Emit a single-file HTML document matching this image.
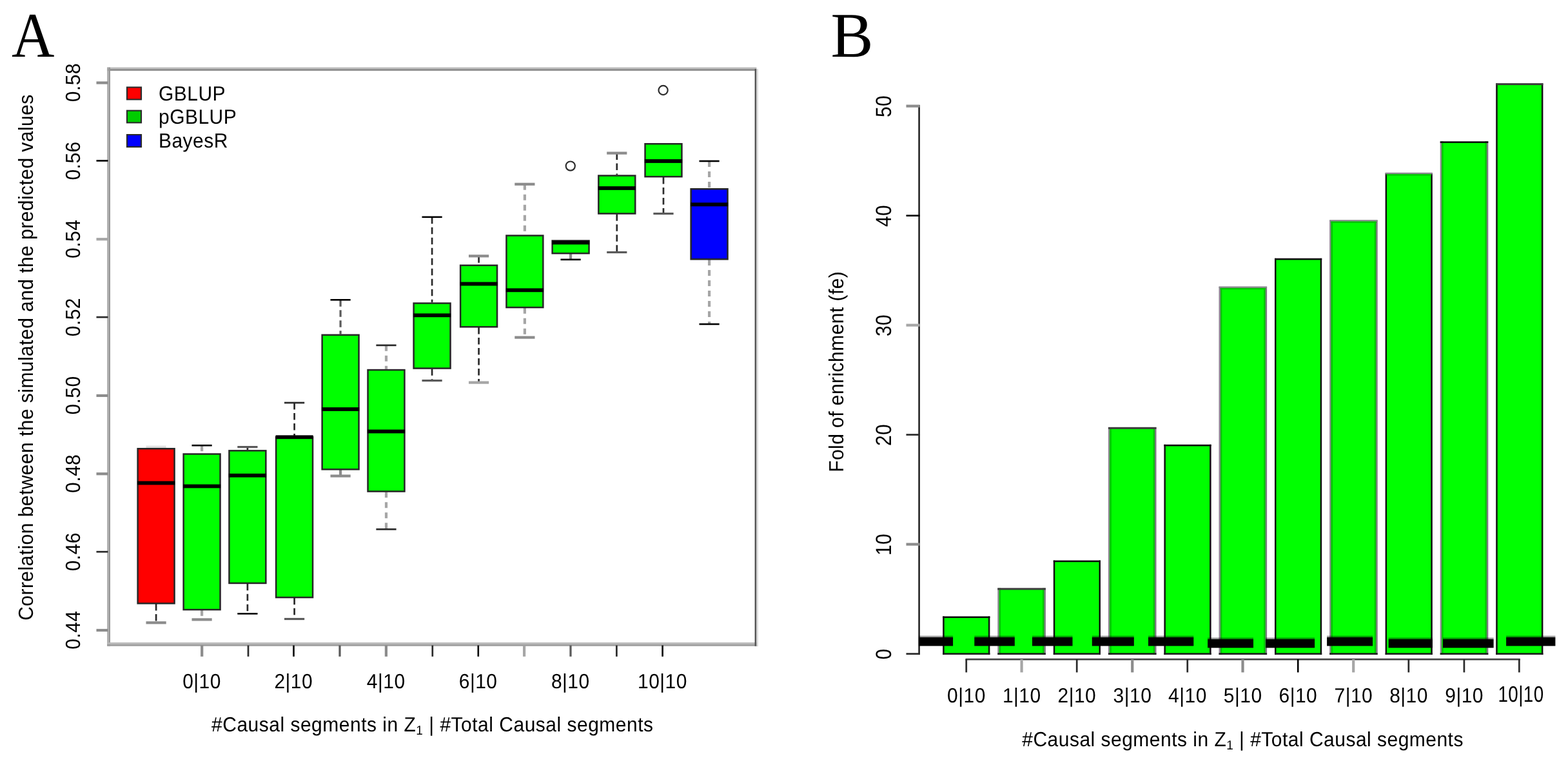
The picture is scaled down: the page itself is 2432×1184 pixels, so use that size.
<!DOCTYPE html>
<html lang="en">
<head>
<meta charset="utf-8">
<title>Prediction accuracy (A) and fold of enrichment (B)</title>
<style>
html, body { margin: 0; padding: 0; background: #ffffff; }
body { width: 2432px; height: 1184px; overflow: hidden; }
svg { display: block; }
text { text-rendering: geometricPrecision; }
text.s { font-family: "Liberation Sans", sans-serif; }
text.r { font-family: "Liberation Serif", serif; }
</style>
</head>
<body>
<svg width="2432" height="1184" viewBox="0 0 2432 1184">
<rect x="0" y="0" width="2432" height="1184" fill="#ffffff"/>
<rect x="166.20" y="104.40" width="1007.20" height="2.50" fill="#bdbdbd"/>
<rect x="166.20" y="106.90" width="1007.20" height="3.00" fill="#909090"/>
<rect x="166.20" y="104.60" width="2.40" height="897.90" fill="#a9a9a9"/>
<rect x="168.60" y="104.60" width="2.40" height="897.90" fill="#979797"/>
<rect x="166.20" y="996.90" width="1009.40" height="2.90" fill="#b8b8b8"/>
<rect x="166.20" y="999.80" width="1009.40" height="2.80" fill="#9c9c9c"/>
<rect x="1170.60" y="106.90" width="2.80" height="895.70" fill="#555"/>
<rect x="1173.40" y="106.90" width="2.60" height="895.70" fill="#ddd"/>
<rect x="149.50" y="975.90" width="18.00" height="4.20" fill="#8c8c8c"/>
<rect x="149.50" y="854.89" width="18.00" height="2.70" fill="#2b2b2b"/>
<rect x="149.50" y="733.18" width="18.00" height="4.20" fill="#8c8c8c"/>
<rect x="149.50" y="611.82" width="18.00" height="4.20" fill="#8c8c8c"/>
<rect x="149.50" y="490.81" width="18.00" height="2.70" fill="#2b2b2b"/>
<rect x="149.50" y="369.10" width="18.00" height="4.20" fill="#a6a6a6"/>
<rect x="149.50" y="248.14" width="18.00" height="2.60" fill="#000"/>
<rect x="149.50" y="126.38" width="18.00" height="4.20" fill="#8c8c8c"/>
<rect x="311.10" y="1001.50" width="4.20" height="17.30" fill="#8c8c8c"/>
<rect x="383.65" y="1001.50" width="2.70" height="17.30" fill="#2b2b2b"/>
<rect x="454.20" y="1001.50" width="2.60" height="17.30" fill="#000"/>
<rect x="525.40" y="1001.50" width="3.20" height="17.30" fill="#5a5a5a"/>
<rect x="596.80" y="1001.50" width="4.20" height="17.30" fill="#8c8c8c"/>
<rect x="669.45" y="1001.50" width="2.70" height="17.30" fill="#2b2b2b"/>
<rect x="740.50" y="1001.50" width="2.60" height="17.30" fill="#000"/>
<rect x="811.00" y="1001.50" width="4.20" height="17.30" fill="#a6a6a6"/>
<rect x="883.40" y="1001.50" width="3.20" height="17.30" fill="#5a5a5a"/>
<rect x="955.05" y="1001.50" width="2.70" height="17.30" fill="#2b2b2b"/>
<rect x="1026.30" y="1001.50" width="2.60" height="17.30" fill="#000"/>
<rect x="195.90" y="134.40" width="24.20" height="21.00" fill="#2a2a2a"/>
<rect x="198.00" y="136.50" width="20.00" height="16.80" fill="#ff0000"/>
<rect x="195.90" y="170.60" width="24.20" height="20.80" fill="#2a2a2a"/>
<rect x="198.00" y="172.70" width="20.00" height="16.60" fill="#00cd00"/>
<rect x="195.90" y="208.00" width="24.20" height="21.00" fill="#2a2a2a"/>
<rect x="198.00" y="210.10" width="20.00" height="16.80" fill="#0000ff"/>
<rect x="226.50" y="691.60" width="31.20" height="4.00" fill="#e0e0e0"/>
<line x1="242.10" y1="937.10" x2="242.10" y2="966.30" stroke="#2b2b2b" stroke-width="2.7" stroke-dasharray="10.5 5.5" stroke-dashoffset="0"/>
<rect x="226.50" y="964.20" width="31.20" height="4.20" fill="#8c8c8c"/>
<rect x="212.40" y="695.00" width="59.40" height="242.60" fill="#262626"/>
<rect x="214.90" y="697.50" width="54.40" height="237.60" fill="#ff0000"/>
<rect x="213.00" y="746.60" width="58.20" height="5.80" fill="#000"/>
<line x1="313.10" y1="691.20" x2="313.10" y2="703.30" stroke="#a6a6a6" stroke-width="4.2" stroke-dasharray="9.0 7.0" stroke-dashoffset="0"/>
<rect x="297.50" y="689.90" width="31.20" height="2.60" fill="#000"/>
<line x1="313.10" y1="946.80" x2="313.10" y2="961.40" stroke="#a6a6a6" stroke-width="4.2" stroke-dasharray="9.0 7.0" stroke-dashoffset="0"/>
<rect x="297.50" y="959.30" width="31.20" height="4.20" fill="#8c8c8c"/>
<rect x="283.40" y="703.30" width="59.40" height="244.00" fill="#262626"/>
<rect x="285.90" y="705.80" width="54.40" height="239.00" fill="#00ff00"/>
<rect x="284.00" y="751.60" width="58.20" height="5.80" fill="#000"/>
<line x1="383.90" y1="693.60" x2="383.90" y2="698.10" stroke="#2b2b2b" stroke-width="2.7" stroke-dasharray="10.5 5.5" stroke-dashoffset="0"/>
<rect x="368.30" y="692.00" width="31.20" height="3.20" fill="#5a5a5a"/>
<line x1="383.90" y1="905.70" x2="383.90" y2="952.30" stroke="#2b2b2b" stroke-width="2.7" stroke-dasharray="10.5 5.5" stroke-dashoffset="0"/>
<rect x="368.30" y="951.00" width="31.20" height="2.60" fill="#000"/>
<rect x="354.20" y="698.10" width="59.40" height="208.10" fill="#262626"/>
<rect x="356.70" y="700.60" width="54.40" height="203.10" fill="#00ff00"/>
<rect x="354.80" y="734.90" width="58.20" height="5.80" fill="#000"/>
<line x1="456.60" y1="625.00" x2="456.60" y2="677.00" stroke="#2b2b2b" stroke-width="2.7" stroke-dasharray="10.5 5.5" stroke-dashoffset="0"/>
<rect x="441.00" y="623.65" width="31.20" height="2.70" fill="#2b2b2b"/>
<line x1="456.60" y1="927.80" x2="456.60" y2="960.50" stroke="#2b2b2b" stroke-width="2.7" stroke-dasharray="10.5 5.5" stroke-dashoffset="0"/>
<rect x="441.00" y="958.90" width="31.20" height="3.20" fill="#5a5a5a"/>
<rect x="426.90" y="677.00" width="59.40" height="251.30" fill="#262626"/>
<rect x="429.40" y="679.50" width="54.40" height="246.30" fill="#00ff00"/>
<rect x="427.50" y="675.40" width="58.20" height="5.80" fill="#000"/>
<line x1="528.10" y1="465.30" x2="528.10" y2="518.50" stroke="#5a5a5a" stroke-width="3.2" stroke-dasharray="10.5 5.5" stroke-dashoffset="0"/>
<rect x="512.50" y="464.00" width="31.20" height="2.60" fill="#000"/>
<line x1="528.10" y1="729.10" x2="528.10" y2="738.60" stroke="#8c8c8c" stroke-width="4.2" stroke-dasharray="9.0 7.0" stroke-dashoffset="0"/>
<rect x="512.50" y="736.50" width="31.20" height="4.20" fill="#8c8c8c"/>
<rect x="498.40" y="518.50" width="59.40" height="211.10" fill="#262626"/>
<rect x="500.90" y="521.00" width="54.40" height="206.10" fill="#00ff00"/>
<rect x="499.00" y="632.10" width="58.20" height="5.80" fill="#000"/>
<line x1="599.00" y1="535.80" x2="599.00" y2="572.80" stroke="#a6a6a6" stroke-width="4.2" stroke-dasharray="9.0 7.0" stroke-dashoffset="0"/>
<rect x="583.40" y="534.45" width="31.20" height="2.70" fill="#2b2b2b"/>
<line x1="599.00" y1="763.30" x2="599.00" y2="821.30" stroke="#a6a6a6" stroke-width="4.2" stroke-dasharray="9.0 7.0" stroke-dashoffset="0"/>
<rect x="583.40" y="819.95" width="31.20" height="2.70" fill="#2b2b2b"/>
<rect x="569.30" y="572.80" width="59.40" height="191.00" fill="#262626"/>
<rect x="571.80" y="575.30" width="54.40" height="186.00" fill="#00ff00"/>
<rect x="569.90" y="666.60" width="58.20" height="5.80" fill="#000"/>
<line x1="670.10" y1="336.80" x2="670.10" y2="469.30" stroke="#2b2b2b" stroke-width="2.7" stroke-dasharray="10.5 5.5" stroke-dashoffset="0"/>
<rect x="654.50" y="335.50" width="31.20" height="2.60" fill="#000"/>
<line x1="670.10" y1="572.30" x2="670.10" y2="590.60" stroke="#2b2b2b" stroke-width="2.7" stroke-dasharray="10.5 5.5" stroke-dashoffset="0"/>
<rect x="654.50" y="589.00" width="31.20" height="3.20" fill="#5a5a5a"/>
<rect x="640.40" y="469.30" width="59.40" height="103.50" fill="#262626"/>
<rect x="642.90" y="471.80" width="54.40" height="98.50" fill="#00ff00"/>
<rect x="641.00" y="486.40" width="58.20" height="5.80" fill="#000"/>
<line x1="742.60" y1="397.30" x2="742.60" y2="410.50" stroke="#2b2b2b" stroke-width="2.7" stroke-dasharray="10.5 5.5" stroke-dashoffset="0"/>
<rect x="727.00" y="395.20" width="31.20" height="4.20" fill="#8c8c8c"/>
<line x1="742.60" y1="508.00" x2="742.60" y2="593.60" stroke="#2b2b2b" stroke-width="2.7" stroke-dasharray="10.5 5.5" stroke-dashoffset="0"/>
<rect x="727.00" y="591.50" width="31.20" height="4.20" fill="#a6a6a6"/>
<rect x="712.90" y="410.50" width="59.40" height="98.00" fill="#262626"/>
<rect x="715.40" y="413.00" width="54.40" height="93.00" fill="#00ff00"/>
<rect x="713.50" y="437.60" width="58.20" height="5.80" fill="#000"/>
<line x1="813.90" y1="285.80" x2="813.90" y2="364.30" stroke="#a6a6a6" stroke-width="4.2" stroke-dasharray="9.0 7.0" stroke-dashoffset="0"/>
<rect x="798.30" y="283.70" width="31.20" height="4.20" fill="#8c8c8c"/>
<line x1="813.90" y1="477.80" x2="813.90" y2="523.60" stroke="#a6a6a6" stroke-width="4.2" stroke-dasharray="9.0 7.0" stroke-dashoffset="0"/>
<rect x="798.30" y="521.50" width="31.20" height="4.20" fill="#8c8c8c"/>
<rect x="784.20" y="364.30" width="59.40" height="114.00" fill="#262626"/>
<rect x="786.70" y="366.80" width="54.40" height="109.00" fill="#00ff00"/>
<rect x="784.80" y="447.40" width="58.20" height="5.80" fill="#000"/>
<line x1="885.10" y1="393.90" x2="885.10" y2="402.80" stroke="#8c8c8c" stroke-width="4.2" stroke-dasharray="9.0 7.0" stroke-dashoffset="0"/>
<rect x="869.50" y="401.50" width="31.20" height="2.60" fill="#000"/>
<rect x="855.40" y="372.30" width="59.40" height="22.10" fill="#262626"/>
<rect x="857.90" y="374.80" width="54.40" height="17.10" fill="#00ff00"/>
<rect x="856.00" y="373.60" width="58.20" height="5.80" fill="#000"/>
<line x1="956.80" y1="237.60" x2="956.80" y2="271.30" stroke="#2b2b2b" stroke-width="2.7" stroke-dasharray="10.5 5.5" stroke-dashoffset="0"/>
<rect x="941.20" y="235.50" width="31.20" height="4.20" fill="#8c8c8c"/>
<line x1="956.80" y1="332.20" x2="956.80" y2="391.50" stroke="#2b2b2b" stroke-width="2.7" stroke-dasharray="10.5 5.5" stroke-dashoffset="0"/>
<rect x="941.20" y="389.90" width="31.20" height="3.20" fill="#5a5a5a"/>
<rect x="927.10" y="271.30" width="59.40" height="61.40" fill="#262626"/>
<rect x="929.60" y="273.80" width="54.40" height="56.40" fill="#00ff00"/>
<rect x="927.70" y="289.10" width="58.20" height="5.80" fill="#000"/>
<line x1="1029.00" y1="274.90" x2="1029.00" y2="331.50" stroke="#2b2b2b" stroke-width="2.7" stroke-dasharray="10.5 5.5" stroke-dashoffset="0"/>
<rect x="1013.40" y="329.90" width="31.20" height="3.20" fill="#5a5a5a"/>
<rect x="999.30" y="222.00" width="59.40" height="53.40" fill="#262626"/>
<rect x="1001.80" y="224.50" width="54.40" height="48.40" fill="#00ff00"/>
<rect x="999.90" y="247.10" width="58.20" height="5.80" fill="#000"/>
<line x1="1100.10" y1="250.00" x2="1100.10" y2="292.00" stroke="#a6a6a6" stroke-width="4.2" stroke-dasharray="9.0 7.0" stroke-dashoffset="0"/>
<rect x="1084.50" y="248.70" width="31.20" height="2.60" fill="#000"/>
<line x1="1100.10" y1="403.00" x2="1100.10" y2="503.00" stroke="#a6a6a6" stroke-width="4.2" stroke-dasharray="9.0 7.0" stroke-dashoffset="0"/>
<rect x="1084.50" y="501.70" width="31.20" height="2.60" fill="#000"/>
<rect x="1070.40" y="292.00" width="59.40" height="111.50" fill="#262626"/>
<rect x="1072.90" y="294.50" width="54.40" height="106.50" fill="#0000ff"/>
<rect x="1071.00" y="314.40" width="58.20" height="5.80" fill="#000"/>
<circle cx="884.8" cy="257.6" r="7.1" fill="none" stroke="#2e2e2e" stroke-width="2.2"/>
<circle cx="1028.6" cy="140.0" r="7.1" fill="none" stroke="#2e2e2e" stroke-width="2.2"/>
<rect x="1463.20" y="957.40" width="71.20" height="57.50" fill="#00ff00"/>
<rect x="1462.20" y="956.40" width="2.50" height="59.50" fill="#101010"/>
<rect x="1532.90" y="956.40" width="2.50" height="59.50" fill="#101010"/>
<rect x="1462.20" y="956.40" width="73.20" height="2.60" fill="#0c0c0c"/>
<rect x="1462.20" y="1013.30" width="73.20" height="2.60" fill="#1c1c1c"/>
<rect x="1549.00" y="913.60" width="71.20" height="101.30" fill="#00ff00"/>
<rect x="1547.30" y="912.60" width="2.50" height="103.30" fill="#8c8890"/>
<rect x="1549.80" y="912.60" width="2.40" height="103.30" fill="#00c400"/>
<rect x="1617.00" y="912.60" width="2.40" height="103.30" fill="#00c400"/>
<rect x="1619.40" y="912.60" width="2.50" height="103.30" fill="#7c787f"/>
<rect x="1547.30" y="912.40" width="74.60" height="3.00" fill="#3c3c3c"/>
<rect x="1547.30" y="1013.30" width="74.60" height="2.60" fill="#1c1c1c"/>
<rect x="1634.80" y="870.60" width="71.20" height="144.30" fill="#00ff00"/>
<rect x="1633.80" y="869.60" width="2.50" height="146.30" fill="#101010"/>
<rect x="1704.50" y="869.60" width="2.50" height="146.30" fill="#101010"/>
<rect x="1633.80" y="869.60" width="73.20" height="2.60" fill="#0c0c0c"/>
<rect x="1633.80" y="1013.30" width="73.20" height="2.60" fill="#1c1c1c"/>
<rect x="1720.60" y="664.00" width="71.20" height="350.90" fill="#00ff00"/>
<rect x="1718.90" y="663.00" width="2.50" height="352.90" fill="#8c8890"/>
<rect x="1721.40" y="663.00" width="2.40" height="352.90" fill="#00c400"/>
<rect x="1788.60" y="663.00" width="2.40" height="352.90" fill="#00c400"/>
<rect x="1791.00" y="663.00" width="2.50" height="352.90" fill="#7c787f"/>
<rect x="1718.90" y="662.80" width="74.60" height="3.00" fill="#3c3c3c"/>
<rect x="1718.90" y="1013.30" width="74.60" height="2.60" fill="#1c1c1c"/>
<rect x="1806.40" y="690.80" width="71.20" height="324.10" fill="#00ff00"/>
<rect x="1805.40" y="689.80" width="2.50" height="326.10" fill="#101010"/>
<rect x="1876.10" y="689.80" width="2.50" height="326.10" fill="#101010"/>
<rect x="1805.40" y="689.80" width="73.20" height="2.60" fill="#0c0c0c"/>
<rect x="1805.40" y="1013.30" width="73.20" height="2.60" fill="#1c1c1c"/>
<rect x="1892.20" y="446.20" width="71.20" height="568.70" fill="#00ff00"/>
<rect x="1890.50" y="445.20" width="2.50" height="570.70" fill="#8c8890"/>
<rect x="1893.00" y="445.20" width="2.40" height="570.70" fill="#00c400"/>
<rect x="1960.20" y="445.20" width="2.40" height="570.70" fill="#00c400"/>
<rect x="1962.60" y="445.20" width="2.50" height="570.70" fill="#7c787f"/>
<rect x="1890.50" y="444.40" width="74.60" height="2.50" fill="#8c8890"/>
<rect x="1892.50" y="446.90" width="70.60" height="2.30" fill="#00c400"/>
<rect x="1890.50" y="1013.30" width="74.60" height="2.60" fill="#1c1c1c"/>
<rect x="1978.00" y="401.80" width="71.20" height="613.10" fill="#00ff00"/>
<rect x="1977.00" y="400.80" width="2.50" height="615.10" fill="#101010"/>
<rect x="2047.70" y="400.80" width="2.50" height="615.10" fill="#101010"/>
<rect x="1977.00" y="400.80" width="73.20" height="2.60" fill="#0c0c0c"/>
<rect x="1977.00" y="1013.30" width="73.20" height="2.60" fill="#1c1c1c"/>
<rect x="2063.80" y="343.00" width="71.20" height="671.90" fill="#00ff00"/>
<rect x="2062.10" y="342.00" width="2.50" height="673.90" fill="#8c8890"/>
<rect x="2064.60" y="342.00" width="2.40" height="673.90" fill="#00c400"/>
<rect x="2131.80" y="342.00" width="2.40" height="673.90" fill="#00c400"/>
<rect x="2134.20" y="342.00" width="2.50" height="673.90" fill="#7c787f"/>
<rect x="2062.10" y="341.20" width="74.60" height="2.50" fill="#8c8890"/>
<rect x="2064.10" y="343.70" width="70.60" height="2.30" fill="#00c400"/>
<rect x="2062.10" y="1013.30" width="74.60" height="2.60" fill="#1c1c1c"/>
<rect x="2149.60" y="269.60" width="71.20" height="745.30" fill="#00ff00"/>
<rect x="2148.60" y="268.60" width="2.50" height="747.30" fill="#101010"/>
<rect x="2219.30" y="268.60" width="2.50" height="747.30" fill="#101010"/>
<rect x="2148.60" y="267.80" width="73.20" height="2.50" fill="#8c8890"/>
<rect x="2150.60" y="270.30" width="69.20" height="2.30" fill="#00c400"/>
<rect x="2148.60" y="1013.30" width="73.20" height="2.60" fill="#1c1c1c"/>
<rect x="2235.40" y="220.30" width="71.20" height="794.60" fill="#00ff00"/>
<rect x="2233.70" y="219.30" width="2.50" height="796.60" fill="#8c8890"/>
<rect x="2236.20" y="219.30" width="2.40" height="796.60" fill="#00c400"/>
<rect x="2303.40" y="219.30" width="2.40" height="796.60" fill="#00c400"/>
<rect x="2305.80" y="219.30" width="2.50" height="796.60" fill="#7c787f"/>
<rect x="2233.70" y="219.30" width="74.60" height="2.60" fill="#0c0c0c"/>
<rect x="2233.70" y="1013.30" width="74.60" height="2.60" fill="#1c1c1c"/>
<rect x="2321.20" y="130.30" width="71.20" height="884.60" fill="#00ff00"/>
<rect x="2320.20" y="129.30" width="2.50" height="886.60" fill="#101010"/>
<rect x="2390.90" y="129.30" width="2.50" height="886.60" fill="#101010"/>
<rect x="2320.20" y="129.10" width="73.20" height="3.00" fill="#3c3c3c"/>
<rect x="2320.20" y="1013.30" width="73.20" height="2.60" fill="#1c1c1c"/>
<rect x="1424.25" y="163.00" width="2.70" height="853.00" fill="#2b2b2b"/>
<rect x="1405.50" y="1013.25" width="21.10" height="2.70" fill="#2b2b2b"/>
<rect x="1405.50" y="842.50" width="21.10" height="4.20" fill="#8c8c8c"/>
<rect x="1405.50" y="673.25" width="21.10" height="2.70" fill="#2b2b2b"/>
<rect x="1405.50" y="502.50" width="21.10" height="4.20" fill="#a6a6a6"/>
<rect x="1405.50" y="333.30" width="21.10" height="2.60" fill="#000"/>
<rect x="1405.50" y="162.50" width="21.10" height="4.20" fill="#8c8c8c"/>
<rect x="1497.50" y="1021.80" width="860.30" height="2.70" fill="#444"/>
<rect x="1497.40" y="1023.00" width="2.70" height="20.40" fill="#2b2b2b"/>
<rect x="1582.50" y="1023.00" width="4.20" height="20.40" fill="#a6a6a6"/>
<rect x="1668.85" y="1023.00" width="2.70" height="20.40" fill="#2b2b2b"/>
<rect x="1754.15" y="1023.00" width="4.20" height="20.40" fill="#8c8c8c"/>
<rect x="1840.40" y="1023.00" width="2.70" height="20.40" fill="#2b2b2b"/>
<rect x="1925.40" y="1023.00" width="4.20" height="20.40" fill="#8c8c8c"/>
<rect x="2011.90" y="1023.00" width="2.60" height="20.40" fill="#000"/>
<rect x="2097.10" y="1023.00" width="4.20" height="20.40" fill="#a6a6a6"/>
<rect x="2183.45" y="1023.00" width="2.70" height="20.40" fill="#2b2b2b"/>
<rect x="2269.55" y="1023.00" width="2.70" height="20.40" fill="#2b2b2b"/>
<rect x="2354.95" y="1023.00" width="2.70" height="20.40" fill="#2b2b2b"/>
<rect x="1425.00" y="986.60" width="53.10" height="2.6" fill="#000" fill-opacity="0.4"/>
<rect x="1425.00" y="989.00" width="53.10" height="13.40" fill="#000"/>
<rect x="1511.30" y="986.60" width="62.50" height="2.6" fill="#000" fill-opacity="0.4"/>
<rect x="1511.30" y="989.00" width="62.50" height="13.40" fill="#000"/>
<rect x="1601.00" y="986.60" width="62.50" height="2.6" fill="#000" fill-opacity="0.4"/>
<rect x="1601.00" y="989.00" width="62.50" height="13.40" fill="#000"/>
<rect x="1693.80" y="986.60" width="65.00" height="2.6" fill="#000" fill-opacity="0.4"/>
<rect x="1693.80" y="989.00" width="65.00" height="13.40" fill="#000"/>
<rect x="1781.00" y="986.60" width="70.30" height="2.6" fill="#000" fill-opacity="0.4"/>
<rect x="1781.00" y="989.00" width="70.30" height="13.40" fill="#000"/>
<rect x="1873.10" y="989.50" width="70.90" height="2.6" fill="#000" fill-opacity="0.4"/>
<rect x="1873.10" y="991.90" width="70.90" height="13.40" fill="#000"/>
<rect x="1963.10" y="989.50" width="76.00" height="2.6" fill="#000" fill-opacity="0.4"/>
<rect x="1963.10" y="991.90" width="76.00" height="13.40" fill="#000"/>
<rect x="2058.10" y="986.60" width="71.00" height="2.6" fill="#000" fill-opacity="0.4"/>
<rect x="2058.10" y="989.00" width="71.00" height="13.40" fill="#000"/>
<rect x="2153.70" y="989.50" width="68.10" height="2.6" fill="#000" fill-opacity="0.4"/>
<rect x="2153.70" y="991.90" width="68.10" height="13.40" fill="#000"/>
<rect x="2238.00" y="989.50" width="78.60" height="2.6" fill="#000" fill-opacity="0.4"/>
<rect x="2238.00" y="991.90" width="78.60" height="13.40" fill="#000"/>
<rect x="2336.10" y="986.60" width="76.30" height="2.6" fill="#000" fill-opacity="0.4"/>
<rect x="2336.10" y="989.00" width="76.30" height="13.40" fill="#000"/>
<g>
<text class="r" transform="translate(18.10 88.00) scale(0.930 1.000)" font-size="99" text-anchor="start" fill="#000">A</text>
<text class="r" transform="translate(1288.40 87.80)" font-size="99" text-anchor="start" fill="#000">B</text>
<text class="s" transform="translate(124.40 977.60) rotate(-90) scale(1.000 1.060)" font-size="30" text-anchor="middle" fill="#000" letter-spacing="0.45">0.44</text>
<text class="s" transform="translate(124.40 856.24) rotate(-90) scale(1.000 1.060)" font-size="30" text-anchor="middle" fill="#000" letter-spacing="0.45">0.46</text>
<text class="s" transform="translate(124.40 734.88) rotate(-90) scale(1.000 1.060)" font-size="30" text-anchor="middle" fill="#000" letter-spacing="0.45">0.48</text>
<text class="s" transform="translate(124.40 613.52) rotate(-90) scale(1.000 1.060)" font-size="30" text-anchor="middle" fill="#000" letter-spacing="0.45">0.50</text>
<text class="s" transform="translate(124.40 492.16) rotate(-90) scale(1.000 1.060)" font-size="30" text-anchor="middle" fill="#000" letter-spacing="0.45">0.52</text>
<text class="s" transform="translate(124.40 370.80) rotate(-90) scale(1.000 1.060)" font-size="30" text-anchor="middle" fill="#000" letter-spacing="0.45">0.54</text>
<text class="s" transform="translate(124.40 249.44) rotate(-90) scale(1.000 1.060)" font-size="30" text-anchor="middle" fill="#000" letter-spacing="0.45">0.56</text>
<text class="s" transform="translate(124.40 128.08) rotate(-90) scale(1.000 1.060)" font-size="30" text-anchor="middle" fill="#000" letter-spacing="0.45">0.58</text>
<text class="s" transform="translate(313.00 1067.60) scale(1.000 1.060)" font-size="30" text-anchor="middle" fill="#000" letter-spacing="0.45">0|10</text>
<text class="s" transform="translate(455.30 1067.60) scale(1.000 1.060)" font-size="30" text-anchor="middle" fill="#000" letter-spacing="0.45">2|10</text>
<text class="s" transform="translate(598.70 1067.60) scale(1.000 1.060)" font-size="30" text-anchor="middle" fill="#000" letter-spacing="0.45">4|10</text>
<text class="s" transform="translate(741.60 1067.60) scale(1.000 1.060)" font-size="30" text-anchor="middle" fill="#000" letter-spacing="0.45">6|10</text>
<text class="s" transform="translate(884.80 1067.60) scale(1.000 1.060)" font-size="30" text-anchor="middle" fill="#000" letter-spacing="0.45">8|10</text>
<text class="s" transform="translate(1027.40 1067.60) scale(1.000 1.060)" font-size="30" text-anchor="middle" fill="#000" letter-spacing="0.45">10|10</text>
<text class="s" transform="translate(670.80 1134.60) scale(1.000 1.060)" font-size="30" text-anchor="middle" fill="#000" letter-spacing="0.5">#Causal segments in Z<tspan font-size="19" dy="5.2">1</tspan><tspan dy="-5.2"> | #Total Causal segments</tspan></text>
<text class="s" transform="translate(51.40 554.50) rotate(-90) scale(1.000 1.060)" font-size="30" text-anchor="middle" fill="#000" letter-spacing="0.45">Correlation between the simulated and the predicted values</text>
<text class="s" transform="translate(246.00 155.50) scale(1.000 1.060)" font-size="30" text-anchor="start" fill="#000" letter-spacing="0.45">GBLUP</text>
<text class="s" transform="translate(246.00 192.30) scale(1.000 1.060)" font-size="30" text-anchor="start" fill="#000" letter-spacing="0.45">pGBLUP</text>
<text class="s" transform="translate(246.00 229.30) scale(1.000 1.060)" font-size="30" text-anchor="start" fill="#000" letter-spacing="0.45">BayesR</text>
<text class="s" transform="translate(1382.40 1014.90) rotate(-90) scale(1.000 1.130)" font-size="30" text-anchor="middle" fill="#000" letter-spacing="0.45">0</text>
<text class="s" transform="translate(1382.40 844.90) rotate(-90) scale(1.000 1.130)" font-size="30" text-anchor="middle" fill="#000" letter-spacing="0.45">10</text>
<text class="s" transform="translate(1382.40 674.90) rotate(-90) scale(1.000 1.130)" font-size="30" text-anchor="middle" fill="#000" letter-spacing="0.45">20</text>
<text class="s" transform="translate(1382.40 504.90) rotate(-90) scale(1.000 1.130)" font-size="30" text-anchor="middle" fill="#000" letter-spacing="0.45">30</text>
<text class="s" transform="translate(1382.40 334.90) rotate(-90) scale(1.000 1.130)" font-size="30" text-anchor="middle" fill="#000" letter-spacing="0.45">40</text>
<text class="s" transform="translate(1382.40 164.90) rotate(-90) scale(1.000 1.130)" font-size="30" text-anchor="middle" fill="#000" letter-spacing="0.45">50</text>
<text class="s" transform="translate(1498.95 1090.20) scale(1.000 1.060)" font-size="30" text-anchor="middle" fill="#000" letter-spacing="0.45">0|10</text>
<text class="s" transform="translate(1584.80 1090.20) scale(1.000 1.060)" font-size="30" text-anchor="middle" fill="#000" letter-spacing="0.45">1|10</text>
<text class="s" transform="translate(1670.40 1090.20) scale(1.000 1.060)" font-size="30" text-anchor="middle" fill="#000" letter-spacing="0.45">2|10</text>
<text class="s" transform="translate(1756.45 1090.20) scale(1.000 1.060)" font-size="30" text-anchor="middle" fill="#000" letter-spacing="0.45">3|10</text>
<text class="s" transform="translate(1841.95 1090.20) scale(1.000 1.060)" font-size="30" text-anchor="middle" fill="#000" letter-spacing="0.45">4|10</text>
<text class="s" transform="translate(1927.70 1090.20) scale(1.000 1.060)" font-size="30" text-anchor="middle" fill="#000" letter-spacing="0.45">5|10</text>
<text class="s" transform="translate(2013.40 1090.20) scale(1.000 1.060)" font-size="30" text-anchor="middle" fill="#000" letter-spacing="0.45">6|10</text>
<text class="s" transform="translate(2099.40 1090.20) scale(1.000 1.060)" font-size="30" text-anchor="middle" fill="#000" letter-spacing="0.45">7|10</text>
<text class="s" transform="translate(2185.00 1090.20) scale(1.000 1.060)" font-size="30" text-anchor="middle" fill="#000" letter-spacing="0.45">8|10</text>
<text class="s" transform="translate(2271.10 1090.20) scale(1.000 1.060)" font-size="30" text-anchor="middle" fill="#000" letter-spacing="0.45">9|10</text>
<text class="s" transform="translate(2359.00 1089.20) scale(0.925 1.160)" font-size="30" text-anchor="middle" fill="#000" letter-spacing="0.45">10|10</text>
<text class="s" transform="translate(1927.60 1157.90) scale(1.000 1.060)" font-size="30" text-anchor="middle" fill="#000" letter-spacing="0.48">#Causal segments in Z<tspan font-size="19" dy="5.2">1</tspan><tspan dy="-5.2"> | #Total Causal segments</tspan></text>
<text class="s" transform="translate(1307.50 576.80) rotate(-90) scale(1.000 1.060)" font-size="30" text-anchor="middle" fill="#000" letter-spacing="0.45">Fold of enrichment (fe)</text>
</g>
</svg>
</body>
</html>
